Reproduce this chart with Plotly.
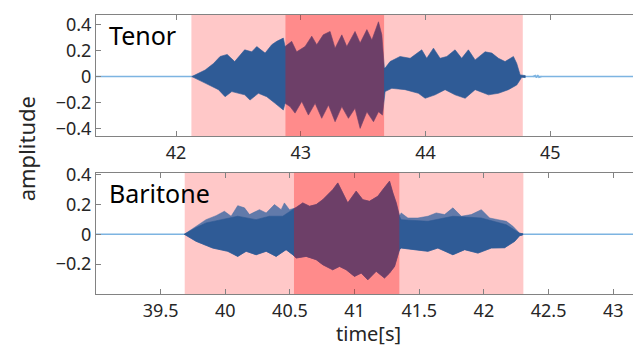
import plotly.graph_objects as go
from plotly.subplots import make_subplots

# ---------------- Tenor (top) ----------------
ten_t_up = [42.126, 42.233, 42.30, 42.353, 42.41, 42.47, 42.55, 42.607, 42.647, 42.714, 42.767,
            42.807, 42.86, 42.874, 42.927, 42.967, 43.034, 43.088, 43.128, 43.18, 43.235, 43.275,
            43.329, 43.369, 43.435, 43.476, 43.53, 43.57, 43.623, 43.65, 43.67, 43.676, 43.716,
            43.796, 43.877, 43.97, 44.01, 44.064, 44.117, 44.171, 44.237, 44.29, 44.344, 44.398,
            44.478, 44.532, 44.585, 44.638, 44.705, 44.732, 44.759, 44.80]
ten_up = [0.0, 0.05, 0.10, 0.154, 0.17, 0.115, 0.205, 0.19, 0.23, 0.18, 0.244,
          0.27, 0.295, 0.23, 0.27, 0.19, 0.23, 0.31, 0.244, 0.32, 0.346, 0.218,
          0.32, 0.23, 0.346, 0.257, 0.36, 0.28, 0.42, 0.32, 0.065, 0.065, 0.115,
          0.154, 0.14, 0.205, 0.14, 0.218, 0.14, 0.154, 0.205, 0.14, 0.205, 0.128,
          0.19, 0.18, 0.14, 0.115, 0.154, 0.10, 0.013, 0.008]
ten_t_lo = [42.126, 42.233, 42.34, 42.393, 42.447, 42.55, 42.593, 42.66, 42.727, 42.794, 42.86,
            42.874, 42.914, 42.954, 43.008, 43.061, 43.115, 43.168, 43.222, 43.275, 43.329,
            43.382, 43.435, 43.476, 43.53, 43.583, 43.623, 43.655, 43.676, 43.73, 43.836,
            43.943, 43.997, 44.077, 44.157, 44.237, 44.318, 44.398, 44.505, 44.585, 44.665,
            44.732, 44.772, 44.80]
ten_lo = [0.0, -0.05, -0.10, -0.154, -0.115, -0.14, -0.18, -0.128, -0.154, -0.205, -0.256,
          -0.205, -0.23, -0.28, -0.19, -0.295, -0.205, -0.32, -0.218, -0.346, -0.23,
          -0.32, -0.243, -0.397, -0.27, -0.346, -0.27, -0.295, -0.115, -0.09, -0.10,
          -0.128, -0.166, -0.14, -0.10, -0.14, -0.166, -0.10, -0.14, -0.128, -0.10,
          -0.064, -0.005, -0.008]
ten_light = [42.123, 44.78]
ten_dark = [42.877, 43.668]
ten_blip_t = [44.86, 44.88, 44.89, 44.90, 44.91, 44.93]
ten_blip_v = [0.0, 0.008, -0.008, 0.012, -0.006, 0.0]

# ---------------- Baritone (bottom) ----------------
bar_t_out = [39.683, 39.774, 39.851, 39.929, 39.993, 40.045, 40.096, 40.148, 40.187, 40.264,
             40.316, 40.38, 40.432, 40.457, 40.496, 40.548, 40.599, 40.651, 40.703, 40.754,
             40.831, 40.87, 40.909, 40.947, 41.012, 41.063, 41.115, 41.18, 41.218, 41.27,
             41.296, 41.322, 41.347, 41.36, 41.412, 41.489, 41.567, 41.631, 41.696, 41.76,
             41.825, 41.902, 41.98, 42.044, 42.108, 42.173, 42.224, 42.276, 42.30]
bar_up_out = [0.0, 0.054, 0.098, 0.125, 0.154, 0.121, 0.192, 0.177, 0.132, 0.165,
              0.143, 0.199, 0.165, 0.21, 0.165, 0.177, 0.21, 0.188, 0.199, 0.232,
              0.299, 0.344, 0.277, 0.21, 0.289, 0.232, 0.221, 0.255, 0.299, 0.356,
              0.277, 0.21, 0.121, 0.143, 0.109, 0.109, 0.121, 0.143, 0.132, 0.177,
              0.121, 0.132, 0.165, 0.109, 0.098, 0.087, 0.054, 0.007, 0.004]
bar_t_in = [39.683, 39.774, 39.851, 39.98, 40.096, 40.238, 40.341, 40.444, 40.496,
            40.548, 40.599, 40.651, 40.703, 40.754, 40.831, 40.87, 40.909, 40.947, 41.012,
            41.063, 41.115, 41.18, 41.218, 41.27, 41.296, 41.322, 41.347, 41.36, 41.567,
            41.76, 41.98, 42.173, 42.276, 42.30]
bar_up_in = [0.0, 0.045, 0.076, 0.098, 0.121, 0.098, 0.121, 0.121, 0.15,
             0.177, 0.21, 0.188, 0.199, 0.232, 0.299, 0.344, 0.277, 0.21, 0.289,
             0.232, 0.221, 0.255, 0.299, 0.356, 0.277, 0.21, 0.121, 0.098, 0.087,
             0.121, 0.109, 0.064, 0.007, 0.004]
bar_t_lo = [39.683, 39.774, 39.902, 40.019, 40.096, 40.161, 40.238, 40.316, 40.393, 40.47,
            40.522, 40.548, 40.625, 40.703, 40.754, 40.831, 40.883, 40.935, 40.999, 41.051,
            41.102, 41.167, 41.231, 41.27, 41.309, 41.347, 41.36, 41.463, 41.567, 41.644,
            41.76, 41.851, 41.954, 42.057, 42.16, 42.238, 42.276, 42.30]
bar_lo = [0.0, -0.047, -0.092, -0.114, -0.148, -0.114, -0.137, -0.114, -0.148, -0.103,
          -0.137, -0.159, -0.148, -0.17, -0.204, -0.238, -0.215, -0.238, -0.282, -0.26,
          -0.305, -0.248, -0.293, -0.26, -0.215, -0.103, -0.092, -0.103, -0.114, -0.092,
          -0.137, -0.103, -0.126, -0.092, -0.09, -0.047, -0.009, -0.004]
bar_light = [39.686, 42.305]
bar_dark = [40.531, 41.346]

ten_xrange = [41.358, 45.72]
bar_xrange = [39.0, 43.207]
ten_yrange = [-0.456, 0.472]
bar_yrange = [-0.40, 0.413]
ten_xticks = [42, 43, 44, 45]
bar_xticks = [39.5, 40, 40.5, 41, 41.5, 42, 42.5, 43]
ten_yticks = [-0.4, -0.2, 0, 0.2, 0.4]
bar_yticks = [-0.2, 0, 0.2, 0.4]

BLUE = "rgb(47,91,150)"
BLUE_LIGHT = "rgba(70,108,165,0.85)"
ZERO = "rgb(125,180,225)"
PINK = "rgb(255,200,200)"
DARK = "rgba(255,0,0,0.3)"
FONT = "Noto Sans"

fig = make_subplots(rows=2, cols=1, vertical_spacing=0.131, row_heights=[0.434, 0.435])

def envelope(t_up, up, t_lo, lo, color, row):
    xs = list(t_up) + list(reversed(t_lo))
    ys = list(up) + list(reversed(lo))
    fig.add_trace(go.Scatter(x=xs, y=ys, mode="lines", fill="toself", fillcolor=color,
                             line=dict(width=0.6, color=color), hoverinfo="skip",
                             showlegend=False), row=row, col=1)

# zero lines
fig.add_trace(go.Scatter(x=ten_xrange, y=[0, 0], mode="lines", line=dict(color=ZERO, width=1.5),
                         showlegend=False), row=1, col=1)
fig.add_trace(go.Scatter(x=ten_blip_t, y=ten_blip_v, mode="lines", line=dict(color=ZERO, width=1.5),
                         showlegend=False), row=1, col=1)
fig.add_trace(go.Scatter(x=bar_xrange, y=[0, 0], mode="lines", line=dict(color=ZERO, width=1.5),
                         showlegend=False), row=2, col=1)

envelope(ten_t_up, ten_up, ten_t_lo, ten_lo, BLUE, 1)
envelope(bar_t_out, bar_up_out, bar_t_lo, bar_lo, BLUE_LIGHT, 2)
envelope(bar_t_in, bar_up_in, bar_t_lo, bar_lo, BLUE, 2)

for (light, dark, ax) in [(ten_light, ten_dark, ""), (bar_light, bar_dark, "2")]:
    fig.add_shape(type="rect", xref="x" + ax, yref="y" + ax + " domain", x0=light[0], x1=light[1],
                  y0=0, y1=1, fillcolor=PINK, line_width=0, layer="below")
    fig.add_shape(type="rect", xref="x" + ax, yref="y" + ax + " domain", x0=dark[0], x1=dark[1],
                  y0=0, y1=1, fillcolor=DARK, line_width=0, layer="above")

axis_common = dict(showgrid=False, zeroline=False, showline=True, linecolor="rgb(130,130,130)",
                   linewidth=1, mirror="allticks", ticks="inside", ticklen=5, automargin=False,
                   tickcolor="rgb(130,130,130)", tickfont=dict(family=FONT, size=18, color="rgb(38,38,38)"))

fig.update_xaxes(range=ten_xrange, tickvals=ten_xticks, ticktext=[str(v) for v in ten_xticks],
                 row=1, col=1, **axis_common)
fig.update_xaxes(range=bar_xrange, tickvals=bar_xticks, ticktext=[f"{v:g}" for v in bar_xticks],
                 row=2, col=1, **axis_common)
fig.update_yaxes(range=ten_yrange, tickvals=ten_yticks,
                 ticktext=["\u22120.4", "\u22120.2", "0", "0.2", "0.4"], row=1, col=1, **axis_common)
fig.update_yaxes(range=bar_yrange, tickvals=bar_yticks,
                 ticktext=["\u22120.2", "0", "0.2", "0.4"], row=2, col=1, **axis_common)

fig.add_annotation(text="Tenor", xref="x domain", yref="y domain", x=0.02, y=0.99,
                   xanchor="left", yanchor="top", showarrow=False,
                   font=dict(family=FONT, size=25, color="black"))
fig.add_annotation(text="Baritone", xref="x2 domain", yref="y2 domain", x=0.02, y=0.99,
                   xanchor="left", yanchor="top", showarrow=False,
                   font=dict(family=FONT, size=25, color="black"))
fig.add_annotation(text="amplitude", xref="paper", yref="paper", x=-0.128, y=0.52,
                   xanchor="center", yanchor="middle", textangle=-90, showarrow=False,
                   borderpad=0, font=dict(family=FONT, size=22, color="rgb(38,38,38)"))
fig.add_annotation(text="time[s]", xref="paper", yref="paper", x=0.5, y=-0.143,
                   xanchor="center", yanchor="middle", showarrow=False,
                   borderpad=0, font=dict(family=FONT, size=20, color="rgb(38,38,38)"))

# page body has an 8px margin: size the figure so the plot lands where the reference's does
fig.update_layout(width=633, height=341, margin=dict(l=88, r=1, t=7, b=55, autoexpand=False),
                  paper_bgcolor="white", plot_bgcolor="white", showlegend=False)

fig.write_html("out.html")
